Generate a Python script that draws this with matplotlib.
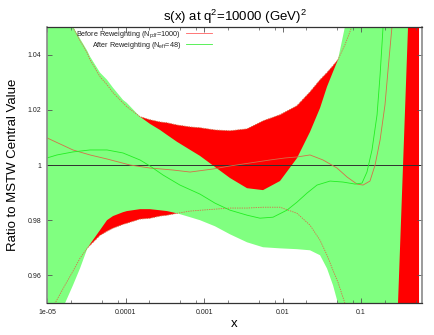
import matplotlib
matplotlib.use("Agg")
import matplotlib.pyplot as plt
from matplotlib.ticker import FixedLocator, NullFormatter
from matplotlib.lines import Line2D

plt.rcParams['font.family'] = ['Liberation Sans', 'DejaVu Sans']
plt.rcParams['mathtext.fontset'] = 'custom'
plt.rcParams['mathtext.rm'] = 'Liberation Sans'

# band edges, common x grid
x_band = [1.00e-5, 1.26e-5, 1.69e-5, 2.14e-5, 2.63e-5, 3.24e-5, 3.53e-5, 4.73e-5,
          5.81e-5, 6.93e-5, 9.29e-5, 1.04e-4, 1.53e-4, 2.05e-4, 2.75e-4, 3.38e-4,
          4.53e-4, 6.64e-4, 8.89e-4, 1.38e-3, 2.14e-3, 3.53e-3, 5.65e-3, 9.29e-3,
          1.53e-2, 2.24e-2, 3.01e-2, 3.69e-2, 4.40e-2, 5.09e-2, 6.25e-2, 7.67e-2,
          0.100, 0.175, 0.296, 0.343, 0.397, 0.548]
# after reweighting (green band)
after_up = [1.068, 1.062, 1.0553, 1.0502, 1.0458, 1.0415, 1.0393, 1.0335,
            1.0309, 1.0280, 1.0236, 1.0225, 1.0175, 1.0149, 1.0127, 1.0109,
            1.0084, 1.0055, 1.0033, 0.9993, 0.9953, 0.9916, 0.9909, 0.9942,
            1.0025, 1.0120, 1.0207, 1.0284, 1.0338, 1.0382, 1.0502, 1.0700,
            1.1000, 1.1500, 1.2000, 1.2100, 1.2200, 1.2500]
after_lo = [0.9342, 0.9411, 0.9498, 0.9564, 0.9625, 0.9695, 0.9713, 0.9764,
            0.9800, 0.9815, 0.9829, 0.9833, 0.9840, 0.9840, 0.9836, 0.9833,
            0.9825, 0.9811, 0.9800, 0.9778, 0.9749, 0.9720, 0.9702, 0.9698,
            0.9695, 0.9691, 0.9673, 0.9625, 0.9564, 0.9498, 0.9400, 0.9300,
            0.9200, 0.9300, 0.9500, 1.0000, 1.0500, 1.1000]
# before reweighting (red band)
before_up = [1.065, 1.061, 1.0545, 1.0498, 1.0451, 1.0407, 1.0382, 1.0320,
             1.0291, 1.0262, 1.0225, 1.0211, 1.0175, 1.0164, 1.0156, 1.0153,
             1.0145, 1.0138, 1.0135, 1.0127, 1.0124, 1.0131, 1.0160, 1.0182,
             1.0215, 1.0265, 1.0309, 1.0335, 1.0360, 1.0382, 1.0436, 1.0502,
             1.0800, 1.1200, 1.1600, 1.1700, 1.1800, 1.2000]
before_lo = [0.9444, 0.9498, 0.9564, 0.9615, 0.9662, 0.9698, 0.9709, 0.9745,
             0.9760, 0.9771, 0.9785, 0.9789, 0.9804, 0.9807, 0.9815, 0.9818,
             0.9825, 0.9833, 0.9836, 0.9840, 0.9844, 0.9844, 0.9847, 0.9847,
             0.9825, 0.9782, 0.9727, 0.9673, 0.9618, 0.9575, 0.9498, 0.9400,
             0.9200, 0.8800, 0.8400, 0.8300, 0.8200, 0.8000]

# central values
x_before_c = [1e-5, 2.14e-5, 3.53e-5, 5.81e-5, 1.14e-4, 2.05e-4, 4.03e-4, 6.64e-4,
              1.30e-3, 2.14e-3, 3.85e-3, 6.93e-3, 1.08e-2, 1.53e-2, 2.24e-2, 3.28e-2,
              4.94e-2, 6.64e-2, 8.89e-2, 0.106, 0.130, 0.151, 0.175, 0.202, 0.221,
              0.248, 0.279]
before_c = [1.00982, 1.00545, 1.00364, 1.00218, 1.00000, 0.99891, 0.99818, 0.99745,
            0.99855, 0.99964, 1.00073, 1.00182, 1.00255, 1.00291, 1.00364, 1.00182,
            0.99891, 0.99564, 0.99309, 0.99273, 0.99418, 1.00000, 1.00909, 1.02182,
            1.03455, 1.05018, 1.07]
x_after_c = [1e-5, 1.34e-5, 2.14e-5, 3.53e-5, 5.81e-5, 9.29e-5, 1.53e-4, 2.05e-4,
             3.01e-4, 4.94e-4, 8.89e-4, 1.38e-3, 2.14e-3, 3.53e-3, 5.16e-3, 7.57e-3,
             1.14e-2, 1.53e-2, 2.05e-2, 2.75e-2, 4.03e-2, 5.90e-2, 8.39e-2, 0.103,
             0.119, 0.138, 0.160, 0.175, 0.191, 0.208]
after_c = [1.00255, 1.00364, 1.00473, 1.00545, 1.00545, 1.00436, 1.00182, 0.99964,
           0.99636, 0.99273, 0.98945, 0.98618, 0.98364, 0.98182, 0.98073, 0.98109,
           0.98364, 0.98655, 0.98982, 0.99273, 0.99418, 0.99382, 0.99309, 0.99345,
           0.99745, 1.00545, 1.01818, 1.03273, 1.05018, 1.07]

x_ticks = [1e-5, 1e-4, 1e-3, 1e-2, 1e-1]
x_tick_labels = ['1e-05', '0.0001', '0.001', '0.01', '0.1']
y_ticks = [0.96, 0.98, 1.0, 1.02, 1.04]
y_tick_labels = ['0.96', '0.98', '1', '1.02', '1.04']

RED = '#ff0000'
LGREEN = '#80ff80'
LINE_RED = '#d4704a'
GREEN = '#22ee22'

fig = plt.figure(figsize=(4.34, 3.35), dpi=100)
ax = fig.add_axes([47 / 434, 32 / 335, 375 / 434, 276 / 335])
ax.set_xscale('log')

ax.fill_between(x_band, before_lo, before_up, color=RED, lw=0)
ax.fill_between(x_band, after_lo, after_up, color=LGREEN, lw=0)

ax.axhline(1.0, color='#303030', lw=0.7)

ax.plot(x_band, before_up, color=LINE_RED, lw=0.6, ls=(0, (1.6, 1.2)))
ax.plot(x_band, before_lo, color=LINE_RED, lw=0.6, ls=(0, (1.6, 1.2)))
ax.plot(x_before_c, before_c, color=LINE_RED, lw=0.6)
ax.plot(x_after_c, after_c, color=GREEN, lw=0.6)

ax.set_xlim(1e-5, 0.598)
ax.set_ylim(0.95, 1.05)

ax.xaxis.set_major_locator(FixedLocator(x_ticks))
ax.set_xticklabels(x_tick_labels)
minors = [m * d for d in [1e-5, 1e-4, 1e-3, 1e-2, 1e-1] for m in (2, 5, 8)]
ax.xaxis.set_minor_locator(FixedLocator(minors))
ax.xaxis.set_minor_formatter(NullFormatter())
ax.set_yticks(y_ticks)
ax.set_yticklabels(y_tick_labels)
ax.yaxis.set_minor_locator(FixedLocator([]))
ax.tick_params(which='both', direction='in', top=True, right=True,
               labelsize=5, colors='#555555', labelcolor='#222222')
ax.tick_params(which='major', length=3.5, width=0.6, pad=4)
ax.tick_params(which='minor', length=2, width=0.5)

for side in ['left', 'right']:
    ax.spines[side].set_color('#8a8a8a')
    ax.spines[side].set_linewidth(1.2)
for side in ['top', 'bottom']:
    ax.spines[side].set_color('#333333')
    ax.spines[side].set_linewidth(0.9)

ax.set_title(r's(x) at q$^{\mathrm{2}}$=10000 (GeV)$^{\mathrm{2}}$', fontsize=9.5, pad=4)
ax.set_xlabel('x', fontsize=9.5, labelpad=2)
ax.set_ylabel('Ratio to MSTW Central Value', fontsize=9.5, labelpad=6)

handles = [Line2D([], [], color='#ff6060', lw=0.6), Line2D([], [], color='#40ee40', lw=0.6)]
labels = [r'Before Reweighting (N$_{\mathrm{pdf}}$=1000)',
          r'After Reweighting (N$_{\mathrm{eff}}$=48)']
leg = ax.legend(handles, labels, loc='upper right', bbox_to_anchor=(0.445, 1.0),
                markerfirst=False, frameon=False, fontsize=5.2, handlelength=3.5,
                handletextpad=0.8, borderaxespad=0.2, labelspacing=0.0,
                borderpad=0.1)
for t in leg.get_texts():
    t.set_color('#222222')

fig.savefig('out.png', dpi=100)
